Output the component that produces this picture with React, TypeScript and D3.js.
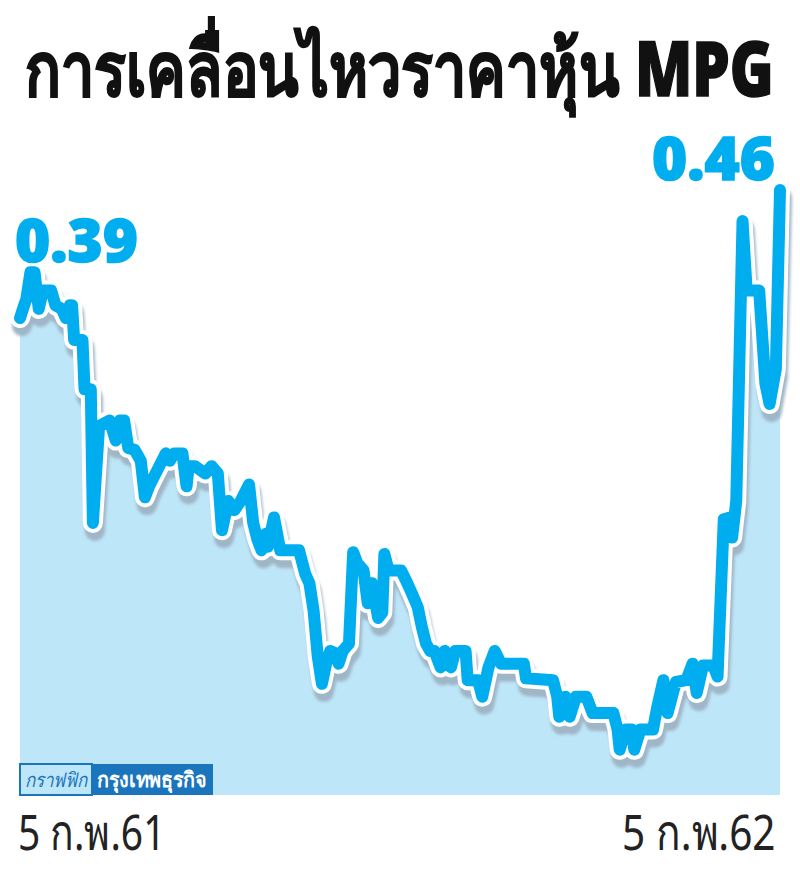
import React, { useLayoutEffect, useRef, useState } from "react";
import * as d3 from "d3";

// days since 5 Feb 2018, closing price (baht)
const days = [
  0, 2, 3, 5, 7, 9, 11, 15, 17, 20, 22, 24, 25, 26, 30, 31, 34, 35, 38, 43,
  46, 48, 50, 52, 55, 58, 60, 62, 66, 70, 72, 74, 78, 80, 81, 84, 89, 92, 95,
  97, 100, 103, 106, 110, 112, 114, 116, 118, 119, 122, 125, 134, 137, 139,
  141, 143, 145, 147, 149, 151, 153, 155, 158, 160, 162, 165, 167, 169, 172,
  174, 175, 177, 183, 186, 188, 191, 193, 195, 197, 199, 202, 204, 207, 209,
  214, 215, 220, 222, 225, 228, 231, 242, 243, 256, 258, 259, 262, 264, 267,
  272, 275, 285, 287, 288, 291, 294, 295, 298, 304, 306, 309, 311, 315, 320,
  323, 325, 328, 333, 335, 338, 341, 342, 344, 347, 349, 355, 358, 360, 363,
  365,
];
const prices = [
  0.39, 0.397, 0.4, 0.415, 0.415, 0.395, 0.405, 0.405, 0.397, 0.395, 0.39,
  0.397, 0.397, 0.378, 0.378, 0.351, 0.351, 0.278, 0.331, 0.334, 0.323, 0.334,
  0.334, 0.319, 0.318, 0.312, 0.292, 0.298, 0.307, 0.316, 0.312, 0.316, 0.316,
  0.298, 0.309, 0.309, 0.305, 0.309, 0.305, 0.274, 0.29, 0.285, 0.29, 0.299,
  0.278, 0.269, 0.263, 0.272, 0.265, 0.281, 0.263, 0.263, 0.25, 0.245, 0.23,
  0.205, 0.19, 0.201, 0.208, 0.207, 0.201, 0.208, 0.212, 0.262, 0.256, 0.252,
  0.234, 0.245, 0.226, 0.229, 0.261, 0.252, 0.252, 0.245, 0.24, 0.232, 0.221,
  0.212, 0.208, 0.208, 0.199, 0.208, 0.199, 0.208, 0.208, 0.192, 0.192, 0.183,
  0.199, 0.208, 0.201, 0.201, 0.193, 0.192, 0.183, 0.172, 0.183, 0.172, 0.183,
  0.183, 0.174, 0.174, 0.165, 0.154, 0.165, 0.165, 0.154, 0.165, 0.165, 0.177,
  0.192, 0.174, 0.191, 0.192, 0.201, 0.185, 0.2, 0.2, 0.194, 0.28, 0.281, 0.27,
  0.29, 0.443, 0.405, 0.405, 0.354, 0.343, 0.362, 0.46,
];
const title = "การเคลื่อนไหวราคาหุ้น MPG";
const startLabel = "5 ก.พ.61";
const endLabel = "5 ก.พ.62";
const logoLeft = "กราฟฟิก";
const logoRight = "กรุงเทพธุรกิจ";

const W = 800;
const H = 876;
const blue = "#00aeef";
const fillBlue = "#bde6f8";
const logoBlue = "#1b75bc";
const font = "'Noto Sans', 'DejaVu Sans', sans-serif";

// text squeezed (or stretched) to an exact width, starting at x
function FitText(props: any) {
  const { x, y, width, children, ...rest } = props;
  const ref = useRef<SVGTextElement>(null);
  const [k, setK] = useState(1);
  useLayoutEffect(() => {
    const w = ref.current ? ref.current.getComputedTextLength() : 0;
    if (w > 0) setK(width / w);
  }, [width, children]);
  return (
    <text
      ref={ref}
      transform={`translate(${x},${y}) scale(${k},1)`}
      fontFamily={font}
      {...rest}
    >
      {children}
    </text>
  );
}

export default function App() {
  const data = days.map((d, i) => ({ d, p: prices[i] }));

  const x = d3.scaleLinear().domain([0, 365]).range([20, 780]);
  const y = d3.scaleLinear().domain([0.15, 0.46]).range([757, 190]);
  const base = 795;

  const line = d3
    .line<{ d: number; p: number }>()
    .x((v) => x(v.d))
    .y((v) => y(v.p));
  const area = d3
    .area<{ d: number; p: number }>()
    .x((v) => x(v.d))
    .y0(base)
    .y1((v) => y(v.p));

  const first = prices[0].toFixed(2);
  const last = prices[prices.length - 1].toFixed(2);
  const path = line(data) || "";

  return (
    <svg
      width={W}
      height={H}
      style={{ position: "absolute", left: 0, top: 0, background: "#fff" }}
    >
      <defs>
        <filter id="blur" x="-10%" y="-10%" width="120%" height="120%">
          <feGaussianBlur stdDeviation="1.5" />
        </filter>
      </defs>

      {/* title */}
      <FitText
        x={25}
        y={96}
        width={750}
        fontWeight="900"
        fontSize={76}
        fill="#111"
        stroke="#111"
        strokeWidth={1.5}
      >
        {title}
      </FitText>

      {/* area under the price */}
      <path d={area(data) || ""} fill={fillBlue} />

      {/* shadow, white outline, blue line */}
      <path
        d={path}
        transform="translate(2,8)"
        fill="none"
        stroke="#9fb6c7"
        strokeWidth={20}
        strokeLinejoin="round"
        strokeLinecap="round"
        filter="url(#blur)"
      />
      <path
        d={path}
        fill="none"
        stroke="#fff"
        strokeWidth={20}
        strokeLinejoin="round"
        strokeLinecap="round"
      />
      <path
        d={path}
        fill="none"
        stroke={blue}
        strokeWidth={12}
        strokeLinejoin="round"
        strokeLinecap="round"
      />

      {/* start and end values */}
      <FitText
        x={15}
        y={262}
        width={123}
        fontWeight="900"
        fontSize={60}
        fill={blue}
        stroke={blue}
        strokeWidth={1.5}
      >
        {first}
      </FitText>
      <FitText
        x={652}
        y={180}
        width={123}
        fontWeight="900"
        fontSize={60}
        fill={blue}
        stroke={blue}
        strokeWidth={1.5}
      >
        {last}
      </FitText>

      {/* logo */}
      <rect x={20} y={764} width={72} height={31} fill={fillBlue} stroke={logoBlue} strokeWidth={2} />
      <rect x={92} y={764} width={121} height={31} fill={logoBlue} />
      <FitText x={25} y={787} width={63} fontStyle="italic" fontSize={20} fill={logoBlue}>
        {logoLeft}
      </FitText>
      <FitText x={97} y={787} width={111} fontWeight="bold" fontSize={21} fill="#fff">
        {logoRight}
      </FitText>

      {/* dates */}
      <FitText x={18} y={850} width={147} fontSize={50} fill="#222">
        {startLabel}
      </FitText>
      <FitText x={622} y={850} width={153} fontSize={50} fill="#222">
        {endLabel}
      </FitText>
    </svg>
  );
}
